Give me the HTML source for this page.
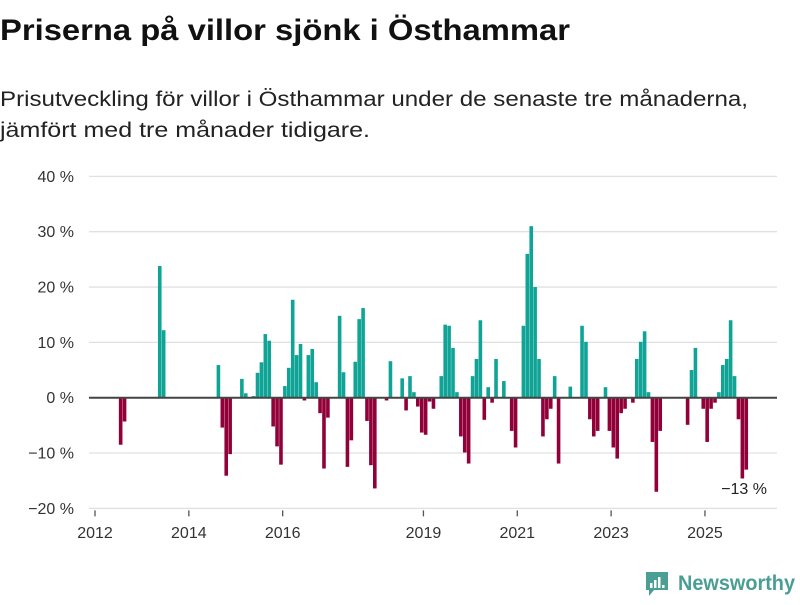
<!DOCTYPE html>
<html><head><meta charset="utf-8"><style>
body{margin:0;background:#fff;width:800px;height:600px;overflow:hidden;font-family:"Liberation Sans","DejaVu Sans",sans-serif}
</style></head><body>
<svg id="chart" width="800" height="600" xmlns="http://www.w3.org/2000/svg" style="font-family:'Liberation Sans','DejaVu Sans',sans-serif">
<text x="0" y="40" font-size="30" font-weight="bold" fill="#111" textLength="570" lengthAdjust="spacingAndGlyphs">Priserna på villor sjönk i Östhammar</text>
<text x="0" y="106" font-size="21" fill="#222" textLength="748" lengthAdjust="spacingAndGlyphs">Prisutveckling för villor i Östhammar under de senaste tre månaderna,</text>
<text x="0" y="137" font-size="21" fill="#222" textLength="370" lengthAdjust="spacingAndGlyphs">jämfört med tre månader tidigare.</text>
<g id="grid"></g>
<g id="bars"></g>
<g id="xaxis"></g>
<text x="767" y="494" font-size="16" fill="#222" text-anchor="end">−13 %</text>
<g>
<path d="M646 572 h22 v18 h-14 l-5 6 v-6 h-3 z" fill="#4a9e94"/>
<rect x="650" y="583" width="2.5" height="5" fill="#fff"/>
<rect x="654" y="580" width="2.5" height="8" fill="#fff"/>
<rect x="658" y="577" width="2.5" height="11" fill="#fff"/>
<rect x="662" y="585" width="2.5" height="3" fill="#fff"/>
<text x="678" y="590" font-size="21" font-weight="bold" fill="#4a9e94" textLength="117" lengthAdjust="spacingAndGlyphs">Newsworthy</text>
</g>
</svg>
<script>
const months = ["2012-07","2012-08","2013-05","2013-06","2014-08","2014-09","2014-10","2014-11","2015-02","2015-03","2015-05","2015-06","2015-07","2015-08","2015-09","2015-10","2015-11","2015-12","2016-01","2016-02","2016-03","2016-04","2016-05","2016-06","2016-07","2016-08","2016-09","2016-10","2016-11","2016-12","2017-03","2017-04","2017-05","2017-06","2017-07","2017-08","2017-09","2017-10","2017-11","2017-12","2018-03","2018-04","2018-07","2018-08","2018-09","2018-10","2018-11","2018-12","2019-01","2019-02","2019-03","2019-05","2019-06","2019-07","2019-08","2019-09","2019-10","2019-11","2019-12","2020-01","2020-02","2020-03","2020-04","2020-05","2020-06","2020-07","2020-09","2020-11","2020-12","2021-02","2021-03","2021-04","2021-05","2021-06","2021-07","2021-08","2021-09","2021-10","2021-11","2022-02","2022-05","2022-06","2022-07","2022-08","2022-09","2022-11","2022-12","2023-01","2023-02","2023-03","2023-04","2023-06","2023-07","2023-08","2023-09","2023-10","2023-11","2023-12","2024-01","2024-08","2024-09","2024-10","2024-12","2025-01","2025-02","2025-03","2025-04","2025-05","2025-06","2025-07","2025-08","2025-09","2025-10","2025-11"];
const values = [-8.5,-4.3,23.8,12.2,5.9,-5.4,-14.1,-10.2,3.4,0.8,0.3,4.5,6.4,11.5,10.3,-5.2,-8.8,-12.1,2.1,5.4,17.7,7.7,9.7,-0.5,7.7,8.8,2.8,-2.8,-12.8,-3.6,14.8,4.6,-12.5,-7.7,6.5,14.2,16.2,-4.2,-12.2,-16.4,-0.5,6.6,3.5,-2.3,3.9,1.0,-1.6,-6.3,-6.7,-0.7,-2.0,3.9,13.2,13.0,9.0,1.0,-7.0,-9.9,-11.9,3.9,7.0,14.0,-4.0,1.9,-0.9,7.0,3.0,-6.0,-9.0,13.0,26.0,31.0,20.0,7.0,-7.0,-3.9,-2.0,3.9,-11.9,2.0,13.0,10.1,-3.9,-7.0,-6.0,1.9,-6.0,-9.0,-11.0,-2.8,-2.0,-0.9,7.0,10.1,12.0,1.0,-8.0,-17.0,-6.0,-4.9,5.0,9.0,-2.0,-8.0,-2.0,-0.9,1.0,5.9,7.0,14.0,3.9,-3.9,-14.6,-13.0];
const yTicks = [40,30,20,10,0,-10,-20];
const yTickLabels = ["40 %","30 %","20 %","10 %","0 %","−10 %","−20 %"];
const xTickYears = [2012,2014,2016,2019,2021,2023,2025];

const NS="http://www.w3.org/2000/svg";
function monthIndex(s){const p=s.split("-");return (+p[0]-2012)*12+(+p[1]-1);}
function xScale(mi){return 95+mi*3.91;}
function yScale(v){return 397.7-v*5.533;}
function mk(tag,attrs,parent){const e=document.createElementNS(NS,tag);for(const k in attrs)e.setAttribute(k,attrs[k]);parent.appendChild(e);return e;}
const grid=document.getElementById("grid"),bars=document.getElementById("bars"),xa=document.getElementById("xaxis");
yTicks.forEach((t,k)=>{
  if(t!==0){const l=mk("line",{x1:89,x2:777,y1:yScale(t),y2:yScale(t),stroke:"#e0e0e0","stroke-width":1.3},grid);
  
  }
  const tx=mk("text",{x:74,y:yScale(t)+5.5,"font-size":16,fill:"#333","text-anchor":"end"},grid);
  tx.textContent=yTickLabels[k];
  
  
});
months.forEach((m,k)=>{
  const v=values[k];const y0=yScale(0),y1=yScale(v);
  const r=mk("rect",{x:xScale(monthIndex(m))+0.4,width:3.6,y:Math.min(y0,y1),height:Math.abs(y1-y0),fill:v>=0?"#0fa496":"#920039"},bars);
  
  
});
const zl=mk("line",{x1:89,x2:777,y1:yScale(0),y2:yScale(0),stroke:"#444","stroke-width":2},xa);


xTickYears.forEach(yr=>{
  const x=xScale((yr-2012)*12);
  const t=mk("line",{x1:x,x2:x,y1:yScale(-20)+2,y2:yScale(-20)+8,stroke:"#555","stroke-width":1.3},xa);
  
  
  const tx=mk("text",{x:x,y:538,"font-size":16,fill:"#333","text-anchor":"middle"},xa);
  tx.textContent=yr;
  
  
});
</script>
</body></html>
